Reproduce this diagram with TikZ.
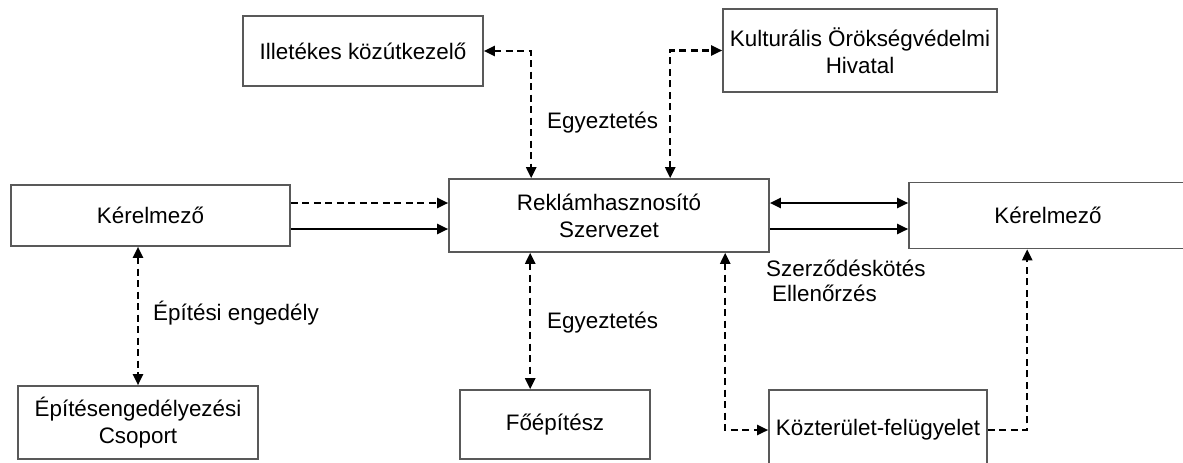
\documentclass[tikz,border=0pt]{standalone}
\usepackage{fontspec}
\setmainfont{Liberation Sans}
\usetikzlibrary{arrows.meta}

\begin{document}
\begin{tikzpicture}[x=1pt, y=-1pt,
        box/.style={draw=black!65, line width=1.6pt, align=center, inner sep=0pt,
            font=\fontsize{22.4}{27}\selectfont},
        lbl/.style={anchor=west, inner sep=0pt, font=\fontsize{22.4}{27}\selectfont},
        dlink/.style={line width=2.3pt, dash pattern=on 7pt off 4.5pt},
        slink/.style={line width=2.3pt},
        oneway/.style={-{Triangle[length=11pt, width=10pt]}},
        twoway/.style={{Triangle[length=11pt, width=10pt]}-{Triangle[length=11pt, width=10pt]}}]
        \useasboundingbox (0,0) rectangle (1183,463);
        \clip (0,0) rectangle (1183,463);

        % ---- boxes ----
        \node[box, minimum width=240, minimum height=70] (ille) at (363,51) {Illetékes közútkezelő};
        \node[box, minimum width=274, minimum height=83] (kult) at (860,50.5) {Kulturális Örökségvédelmi\\Hivatal};
        \node[box, minimum width=279, minimum height=61] (kerL) at (150.5,215.5) {Kérelmező};
        \node[box, minimum width=320, minimum height=73] (rek) at (609,215.5) {Reklámhasznosító\\Szervezet};
        \node[box, minimum width=278, minimum height=66] (kerR) at (1048,215.5) {Kérelmező};
        \node[box, minimum width=240, minimum height=73] (epit) at (138,422.5) {Építésengedélyezési\\Csoport};
        \node[box, minimum width=190, minimum height=69] (foep) at (555,424.5) {Főépítész};
        \node[box, minimum width=218, minimum height=80] (kozt) at (878,430) {Közterület-felügyelet};

        % ---- links above the centre box ----
        \draw[dlink, twoway] (ille.east) -| ([xshift=83]rek.north west);
        \draw[dlink, twoway] ([xshift=222]rek.north west) |- (kult.west);

        % ---- left and right applicants ----
        \draw[dlink, oneway] ([yshift=12.5]kerL.east) -- ([yshift=12.5]rek.west);
        \draw[slink, oneway] ([yshift=-13.5]kerL.east) -- ([yshift=-13.5]rek.west);
        \draw[slink, twoway] ([yshift=12.5]rek.east) -- ([yshift=12.5]kerR.west);
        \draw[slink, oneway] ([yshift=-13.5]rek.east) -- ([yshift=-13.5]kerR.west);

        % ---- links below ----
        \draw[dlink, twoway] (kerL.south -| epit.north) -- (epit.north);
        \draw[dlink, twoway] ([xshift=82]rek.south west) -- ([xshift=71]foep.north west);
        \draw[dlink, twoway] ([xshift=277]rek.south west) |- (kozt.west);
        \draw[dlink, oneway] (kozt.east) -| ([xshift=119]kerR.south west);

        % ---- labels ----
        \node[lbl] (egyTop) at (547,123) {Egyeztetés};
        \node[lbl] (szerz) at (766,268) {Szerződéskötés};
        \node[lbl] (ellen) at (772,293) {Ellenőrzés};
        \node[lbl] (epitLbl) at (153,313) {Építési engedély};
        \node[lbl] (egyBot) at (547,323) {Egyeztetés};
    \end{tikzpicture}
\end{document}
